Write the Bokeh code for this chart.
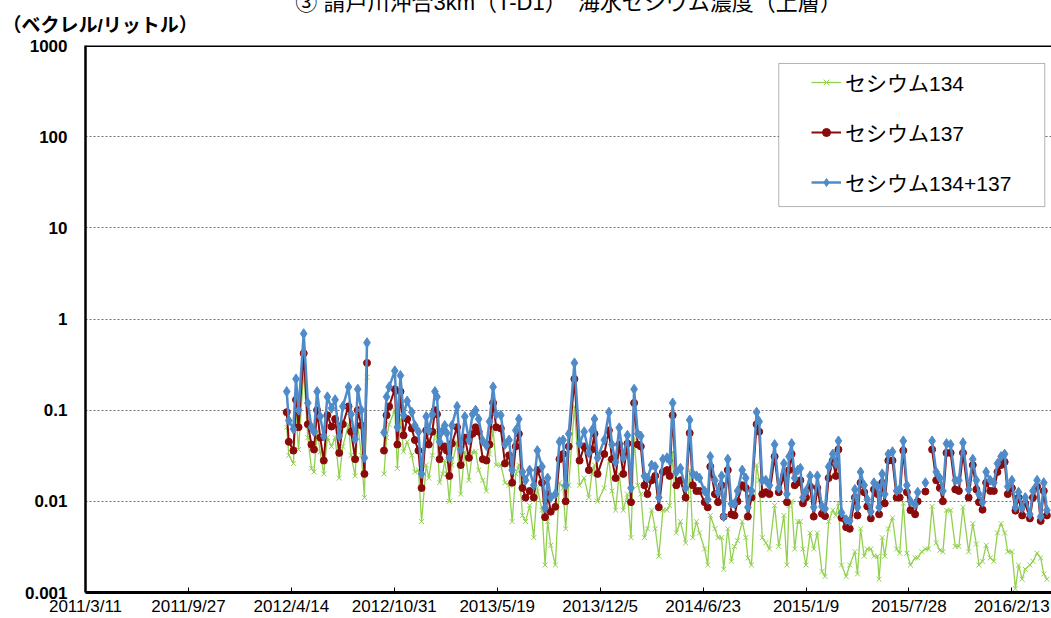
from bokeh.plotting import figure
from bokeh.models import (ColumnDataSource, FixedTicker, Span, Legend, LegendItem,
                          Title, BoxAnnotation, Range1d)
from bokeh.embed import file_html
from bokeh.resources import INLINE
import numpy as np

nan = float("nan")

# sampling day, counted in days since 2011-03-11
sample_day = [
    391, 395, 404, 409, 414, 424, 432, 439, 444, 450, 456, 463, 470, 478, 485, 493, 500, 511, 516, 524,
    529, 536, 542, 547, 564, 580, 585, 590, 601, 606, 612, 618, 625, 634, 640, 647, 653, 662, 667, 674,
    679, 683, 688, 694, 698, 702, 707, 712, 722, 729, 737, 745, 752, 758, 764, 772, 779, 785, 792, 798,
    807, 815, 823, 829, 836, 842, 849, 855, 863, 871, 878, 887, 893, 898, 904, 913, 921, 928, 933, 939,
    950, 960, 969, 978, 984, 989, 995, 1008, 1017, 1023, 1030, 1037, 1045, 1053, 1060, 1066, 1073, 1079, 1086, 1092,
    1100, 1107, 1114, 1122, 1130, 1135, 1141, 1148, 1156, 1166, 1174, 1180, 1187, 1193, 1203, 1209, 1214, 1223, 1229, 1236,
    1240, 1248, 1255, 1261, 1267, 1276, 1283, 1287, 1294, 1304, 1309, 1315, 1322, 1329, 1339, 1347, 1357, 1363, 1367, 1372,
    1378, 1384, 1389, 1394, 1400, 1408, 1415, 1422, 1431, 1437, 1444, 1452, 1458, 1463, 1469, 1478, 1485, 1495, 1500, 1506,
    1513, 1519, 1526, 1532, 1539, 1542, 1548, 1553, 1560, 1568, 1576, 1582, 1589, 1596, 1603, 1612, 1617, 1625, 1632, 1638,
    1645, 1653, 1660, 1666, 1673, 1681, 1690, 1697, 1705, 1716, 1724, 1731, 1736, 1743, 1750, 1758, 1765, 1772, 1779, 1786,
    1792, 1800, 1807, 1813, 1820, 1826, 1835, 1841, 1849, 1856, 1862, 1868,
]

cs134 = [
    0.065, 0.032, 0.026, 0.09, 0.037, 0.27, 0.05, 0.023, 0.021, 0.06, 0.035, 0.02, 0.05, 0.04, 0.05, 0.018, 0.04, 0.07, 0.032, 0.019,
    0.07, 0.032, 0.011, 0.23, nan, 0.02, 0.05, 0.07, 0.10, 0.023, 0.08, 0.035, 0.045, 0.032, 0.021, 0.022, 0.006, 0.025, 0.018, 0.032,
    0.06, 0.05, 0.016, 0.02, 0.028, 0.02, 0.01, 0.025, 0.045, 0.012, 0.035, 0.017, 0.035, 0.035, 0.022, 0.017, 0.013, 0.033, 0.06, 0.025,
    0.025, 0.016, 0.015, 0.006, 0.02, 0.025, 0.007, 0.006, 0.009, 0.004, 0.014, 0.008, 0.002, 0.006, 0.0033, 0.002, 0.016, 0.014, 0.005, 0.015,
    0.11, 0.015, 0.018, 0.011, 0.02, 0.025, 0.01, 0.014, 0.03, 0.013, 0.008, 0.02, 0.008, 0.012, 0.004, 0.05, 0.015, 0.012, 0.004, 0.005,
    0.008, 0.005, 0.0025, 0.008, 0.008, 0.009, 0.035, 0.0045, 0.006, 0.0035, 0.022, 0.004, 0.006, 0.0045, 0.003, 0.002, 0.007, 0.005, 0.004, 0.004,
    0.0018, 0.005, 0.0022, 0.0032, 0.0037, 0.006, 0.004, 0.0024, 0.002, 0.025, 0.017, 0.004, 0.0035, 0.003, 0.009, 0.0032, 0.007, 0.002, 0.009, 0.01,
    0.003, 0.006, 0.006, 0.003, 0.002, 0.0045, 0.003, 0.0045, 0.0017, 0.0015, 0.006, 0.008, 0.007, 0.0095, 0.002, 0.0015, 0.002, 0.0028, 0.0016, 0.005,
    0.0025, 0.003, 0.003, 0.0025, 0.0025, 0.0014, 0.004, 0.0025, 0.005, 0.0066, 0.003, 0.0027, 0.0095, 0.0027, 0.002, 0.0024, 0.0024, 0.0028, 0.003, 0.003,
    0.0088, 0.0035, 0.0029, 0.0028, 0.008, 0.008, 0.0032, 0.0032, 0.0086, 0.0028, 0.0057, 0.0034, 0.002, 0.0022, 0.0033, 0.0024, 0.0022, 0.0045, 0.0057, 0.0045,
    0.0028, 0.0028, 0.0011, 0.002, 0.0014, 0.0018, 0.002, 0.0022, 0.0027, 0.0024, 0.0016, 0.0014,
]

cs137 = [
    0.095, 0.045, 0.036, 0.13, 0.065, 0.42, 0.07, 0.042, 0.037, 0.10, 0.05, 0.028, 0.088, 0.066, 0.08, 0.034, 0.07, 0.11, 0.058, 0.029,
    0.10, 0.068, 0.02, 0.33, nan, 0.036, 0.088, 0.11, 0.17, 0.042, 0.16, 0.053, 0.08, 0.063, 0.047, 0.036, 0.014, 0.06, 0.042, 0.058,
    0.10, 0.09, 0.029, 0.04, 0.04, 0.036, 0.019, 0.043, 0.065, 0.025, 0.05, 0.03, 0.055, 0.065, 0.058, 0.029, 0.028, 0.042, 0.12, 0.065,
    0.063, 0.026, 0.032, 0.016, 0.04, 0.055, 0.014, 0.011, 0.013, 0.011, 0.022, 0.016, 0.0067, 0.012, 0.0077, 0.0087, 0.029, 0.033, 0.01, 0.04,
    0.22, 0.028, 0.04, 0.022, 0.037, 0.055, 0.02, 0.033, 0.06, 0.029, 0.018, 0.042, 0.02, 0.043, 0.0098, 0.12, 0.042, 0.04, 0.015, 0.012,
    0.017, 0.019, 0.0086, 0.021, 0.022, 0.019, 0.088, 0.015, 0.017, 0.011, 0.056, 0.015, 0.013, 0.013, 0.0098, 0.0086, 0.024, 0.012, 0.0098, 0.015,
    0.0068, 0.022, 0.0072, 0.007, 0.01, 0.015, 0.014, 0.0068, 0.011, 0.07, 0.058, 0.012, 0.0126, 0.012, 0.031, 0.0126, 0.019, 0.0098, 0.022, 0.033,
    0.015, 0.016, 0.017, 0.0095, 0.011, 0.0145, 0.0068, 0.014, 0.0073, 0.0069, 0.018, 0.028, 0.019, 0.037, 0.0066, 0.0052, 0.005, 0.011, 0.007, 0.016,
    0.0126, 0.0088, 0.0065, 0.0135, 0.012, 0.0072, 0.016, 0.0095, 0.028, 0.028, 0.011, 0.011, 0.036, 0.0126, 0.008, 0.0072, 0.01, nan, 0.0128, nan,
    0.037, 0.017, 0.014, 0.01, 0.034, 0.034, 0.0135, 0.013, 0.034, 0.011, 0.025, 0.0135, 0.0098, 0.0081, 0.016, 0.013, 0.013, 0.021, 0.025, 0.027,
    0.012, 0.014, 0.0079, 0.011, 0.007, 0.0095, 0.0065, 0.011, 0.0145, 0.0061, 0.013, 0.007,
]

cs_total = [
    0.16, 0.077, 0.062, 0.22, 0.10, 0.69, 0.12, 0.065, 0.058, 0.16, 0.085, 0.052, 0.14, 0.105, 0.13, 0.052, 0.11, 0.18, 0.09, 0.048,
    0.17, 0.10, 0.03, 0.55, nan, 0.057, 0.14, 0.18, 0.27, 0.065, 0.24, 0.088, 0.126, 0.095, 0.068, 0.058, 0.02, 0.085, 0.06, 0.09,
    0.16, 0.14, 0.045, 0.06, 0.068, 0.056, 0.03, 0.068, 0.11, 0.037, 0.085, 0.047, 0.09, 0.10, 0.08, 0.046, 0.041, 0.075, 0.18, 0.09,
    0.088, 0.042, 0.047, 0.022, 0.06, 0.08, 0.021, 0.017, 0.022, 0.015, 0.036, 0.024, 0.0085, 0.018, 0.011, 0.012, 0.045, 0.047, 0.015, 0.055,
    0.33, 0.043, 0.058, 0.034, 0.06, 0.08, 0.03, 0.047, 0.095, 0.042, 0.027, 0.064, 0.03, 0.053, 0.014, 0.17, 0.055, 0.052, 0.019, 0.018,
    0.025, 0.024, 0.011, 0.029, 0.03, 0.028, 0.12, 0.021, 0.023, 0.014, 0.078, 0.02, 0.019, 0.018, 0.013, 0.0105, 0.031, 0.017, 0.0126, 0.019,
    0.0068, 0.029, 0.0094, 0.0094, 0.013, 0.022, 0.018, 0.0086, 0.013, 0.095, 0.075, 0.017, 0.017, 0.015, 0.042, 0.014, 0.026, 0.012, 0.031, 0.043,
    0.018, 0.022, 0.023, 0.011, 0.013, 0.019, 0.0086, 0.019, 0.0088, 0.0083, 0.024, 0.033, 0.026, 0.046, 0.0075, 0.0063, 0.0061, 0.0135, 0.0086, 0.021,
    0.015, 0.0105, 0.0077, 0.016, 0.0145, 0.0086, 0.02, 0.012, 0.033, 0.035, 0.013, 0.0135, 0.046, 0.015, 0.01, 0.0092, 0.0126, nan, 0.016, nan,
    0.046, 0.021, 0.018, 0.013, 0.043, 0.042, 0.017, 0.017, 0.044, 0.0135, 0.029, 0.017, 0.012, 0.0098, 0.021, 0.017, 0.016, 0.026, 0.031, 0.033,
    0.0145, 0.017, 0.0086, 0.0126, 0.0085, 0.011, 0.0072, 0.013, 0.017, 0.0068, 0.016, 0.008,
]

x_tick_days = [0, 200, 400, 600, 800, 1000, 1200, 1400, 1600, 1800]
x_tick_labels = ["2011/3/11", "2011/9/27", "2012/4/14", "2012/10/31", "2013/5/19",
                 "2013/12/5", "2014/6/23", "2015/1/9", "2015/7/28", "2016/2/13"]
y_tick_values = [0.001, 0.01, 0.1, 1, 10, 100, 1000]
y_tick_labels = ["0.001", "0.01", "0.1", "1", "10", "100", "1000"]

series_names = ["セシウム134", "セシウム137", "セシウム134+137"]
title_text = "③ 請戸川沖合3km（T-D1）　海水セシウム濃度（上層）"
unit_text = "（ベクレル/リットル）"

GREEN = "#92D050"
RED = "#8B0A0A"
BLUE = "#4F8BC9"
JP_FONT = "Liberation Sans, Noto Sans CJK JP"

TOP = 62     # top border inside the canvas; the canvas is lifted by TOP - 45 px

src = ColumnDataSource(data=dict(
    day=np.array(sample_day, dtype=float),
    cs134=np.array(cs134, dtype=float),
    cs137=np.array(cs137, dtype=float),
    total=np.array(cs_total, dtype=float),
))

p = figure(width=1051, height=618 + TOP - 45, y_axis_type="log",
           x_range=Range1d(0, 1877), y_range=Range1d(0.001, 1000),
           output_backend="svg", toolbar_location=None,
           min_border_left=85, min_border_right=0, min_border_top=TOP, min_border_bottom=26)
p.styles = {"margin-top": f"-{TOP - 45}px"}
p.outline_line_color = None
p.background_fill_color = "white"
p.border_fill_color = "white"

# axes
p.xaxis.ticker = FixedTicker(ticks=x_tick_days)
p.xaxis.major_label_overrides = {d: l for d, l in zip(x_tick_days, x_tick_labels)}
p.xaxis.major_label_text_font = "Liberation Sans"
p.xaxis.major_label_text_font_size = "17px"
p.xaxis.major_label_text_color = "black"
p.xaxis.major_label_standoff = 4
p.xaxis.major_tick_in = 5
p.xaxis.major_tick_out = 0
p.xaxis.major_tick_line_color = "black"
p.xaxis.minor_tick_line_color = None
p.xaxis.axis_line_width = 3
p.xaxis.axis_line_color = "black"

p.yaxis.ticker = FixedTicker(ticks=y_tick_values)
p.yaxis.major_label_overrides = {v: l for v, l in zip(y_tick_values, y_tick_labels)}
p.yaxis.major_label_text_font = "Liberation Sans"
p.yaxis.major_label_text_font_style = "bold"
p.yaxis.major_label_text_font_size = "17px"
p.yaxis.major_label_text_color = "black"
p.yaxis.major_label_standoff = 18
p.yaxis.major_tick_in = 0
p.yaxis.major_tick_out = 0
p.yaxis.minor_tick_line_color = None
p.yaxis.axis_line_width = 2.5
p.yaxis.axis_line_color = "black"

p.xgrid.visible = False
p.ygrid.ticker = FixedTicker(ticks=y_tick_values)
p.ygrid.grid_line_color = "#707070"
p.ygrid.grid_line_dash = "2 2"
p.ygrid.grid_line_width = 1

p.add_layout(Span(location=1000, dimension="width", line_color="black", line_width=3))

# series
g_line = p.line("day", "cs134", source=src, color=GREEN, line_width=1.3)
g_pts = p.scatter("day", "cs134", source=src, marker="x", size=7, color=GREEN, line_width=1)
r_line = p.line("day", "cs137", source=src, color=RED, line_width=2)
r_pts = p.scatter("day", "cs137", source=src, marker="circle", size=7, color=RED)
b_line = p.line("day", "total", source=src, color=BLUE, line_width=2.5)
b_pts = p.scatter("day", "total", source=src, marker="diamond", size=10, color=BLUE)

# legend frame (white box)
p.add_layout(BoxAnnotation(left=1347, right=1864, top=635, bottom=17.1,
                           fill_color="white", fill_alpha=1, line_color="black", line_width=1))
legend = Legend(items=[
    LegendItem(label=series_names[0], renderers=[g_line, g_pts]),
    LegendItem(label=series_names[1], renderers=[r_line, r_pts]),
    LegendItem(label=series_names[2], renderers=[b_line, b_pts]),
], location=(726, 395), padding=0, spacing=20, margin=0,
    label_height=20, glyph_height=20, glyph_width=30, label_standoff=4,
    label_text_font=JP_FONT, label_text_font_size="21px", label_text_color="black",
    border_line_color=None, background_fill_alpha=0)
p.add_layout(legend)

# unit text (closest to the plot) and main title (outermost, pulled down beside it)
p.add_layout(Title(text=unit_text, align="left", offset=-83, standoff=20,
                   text_font=JP_FONT, text_font_style="bold", text_font_size="19px",
                   text_color="black"), "above")
p.add_layout(Title(text=title_text, align="center", standoff=-24,
                   text_font=JP_FONT, text_font_style="normal", text_font_size="22px",
                   text_color="black"), "above")

open("out.html", "w").write(file_html(p, INLINE))
